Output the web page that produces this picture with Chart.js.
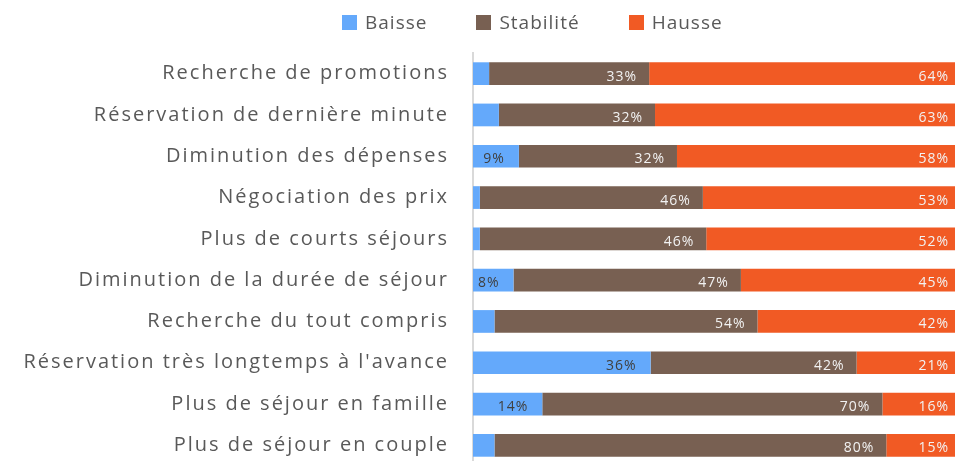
<!DOCTYPE html>
<html>
<head>
<meta charset="utf-8">
<script src="https://cdn.jsdelivr.net/npm/chart.js@4/dist/chart.umd.min.js"></script>
<style>
  html, body { margin: 0; padding: 0; background: #fff; }
  #wrap { position: relative; width: 955px; height: 461px; overflow: hidden; }
  #chart { position: absolute; left: 0; top: 0; }
  #legend { position: absolute; top: 9px; left: 342px; display: flex; font-family: "Open Sans", sans-serif; font-size: 19px; letter-spacing: 1px; color: #595959; }
  #legend .item { display: flex; align-items: center; margin-right: 49px; }
  #legend .swatch { width: 15px; height: 15px; margin-right: 8px; }
</style>
</head>
<body>
<div id="wrap">
  <canvas id="chart" width="962" height="502"></canvas>
  <div id="legend"></div>
</div>
<script>
/*chart data*/
const categories = [
  'Recherche de promotions',
  'Réservation de dernière minute',
  'Diminution des dépenses',
  'Négociation des prix',
  'Plus de courts séjours',
  'Diminution de la durée de séjour',
  'Recherche du tout compris',
  "Réservation très longtemps à l'avance",
  'Plus de séjour en famille',
  'Plus de séjour en couple'
];
const baisse    = [3.3, 5.3, 9.4, 1.4, 1.4, 8.3, 4.4, 36.4, 14.2, 4.4];
const stabilite = [32.8, 32.0, 32.4, 45.7, 46.4, 46.6, 53.9, 42.2, 69.7, 80.3];
const hausse    = [63.9, 62.7, 58.2, 52.9, 52.2, 45.1, 41.7, 21.4, 16.1, 15.3];

const LABEL_MIN = 6; // small segments get no label

/*wide letter spacing like the original, set again after every canvas reset*/
const spacing = {
  id: 'spacing',
  beforeLayout(chart) { chart.ctx.letterSpacing = '2px'; },
  beforeDraw(chart) { chart.ctx.letterSpacing = '2px'; }
};

/*draw the percent labels inside each segment*/
const barLabels = {
  id: 'barLabels',
  afterDatasetsDraw(chart) {
    const ctx = chart.ctx;
    ctx.save();
    ctx.letterSpacing = '1px';
    ctx.font = '14px "Open Sans", sans-serif';
    ctx.textAlign = 'right';
    ctx.textBaseline = 'middle';
    chart.data.datasets.forEach((ds, i) => {
      const meta = chart.getDatasetMeta(i);
      meta.data.forEach((bar, j) => {
        const v = ds.data[j];
        if (v < LABEL_MIN) return;
        ctx.fillStyle = ds.labelColor;
        ctx.fillText(Math.round(v) + '%', bar.x - ds.labelOffset, bar.y + 3);
      });
    });
    ctx.restore();
  }
};

/*legend drawn as html*/
const htmlLegend = {
  id: 'htmlLegend',
  afterUpdate(chart) {
    const box = document.getElementById('legend');
    box.innerHTML = '';
    chart.data.datasets.forEach(ds => {
      const item = document.createElement('div');
      item.className = 'item';
      const sw = document.createElement('span');
      sw.className = 'swatch';
      sw.style.background = ds.backgroundColor;
      const txt = document.createElement('span');
      txt.textContent = ds.label;
      item.appendChild(sw);
      item.appendChild(txt);
      box.appendChild(item);
    });
  }
};

document.addEventListener('DOMContentLoaded', function() {
  new Chart(document.getElementById('chart'), {
    type: 'bar',
    data: {
      labels: categories,
      datasets: [
        { label: 'Baisse', data: baisse, backgroundColor: '#64a9fb', labelColor: '#404040', labelOffset: 14 },
        { label: 'Stabilité', data: stabilite, backgroundColor: '#786052', labelColor: '#f2f2f2', labelOffset: 12 },
        { label: 'Hausse', data: hausse, backgroundColor: '#f15a24', labelColor: '#f2f2f2', labelOffset: 12 }
      ]
    },
    options: {
      indexAxis: 'y',
      responsive: false,
      animation: false,
      layout: { padding: { top: 53, right: 1, bottom: 6, left: 0 } },
      datasets: { bar: { barPercentage: 0.55, categoryPercentage: 1 } },
      plugins: {
        legend: { display: false },
        tooltip: { enabled: false }
      },
      scales: {
        x: { stacked: true, min: 0, max: 100, display: false },
        y: {
          stacked: true,
          grid: { display: false, drawTicks: false },
          border: { color: '#d9d9d9', width: 2 },
          ticks: {
            autoSkip: false,
            padding: 24,
            color: '#595959',
            font: { family: '"Open Sans", sans-serif', size: 20 }
          },
          afterFit(scale) { scale.width = 473; }
        }
      }
    },
    plugins: [spacing, barLabels, htmlLegend]
  });
});
</script>
</body>
</html>
